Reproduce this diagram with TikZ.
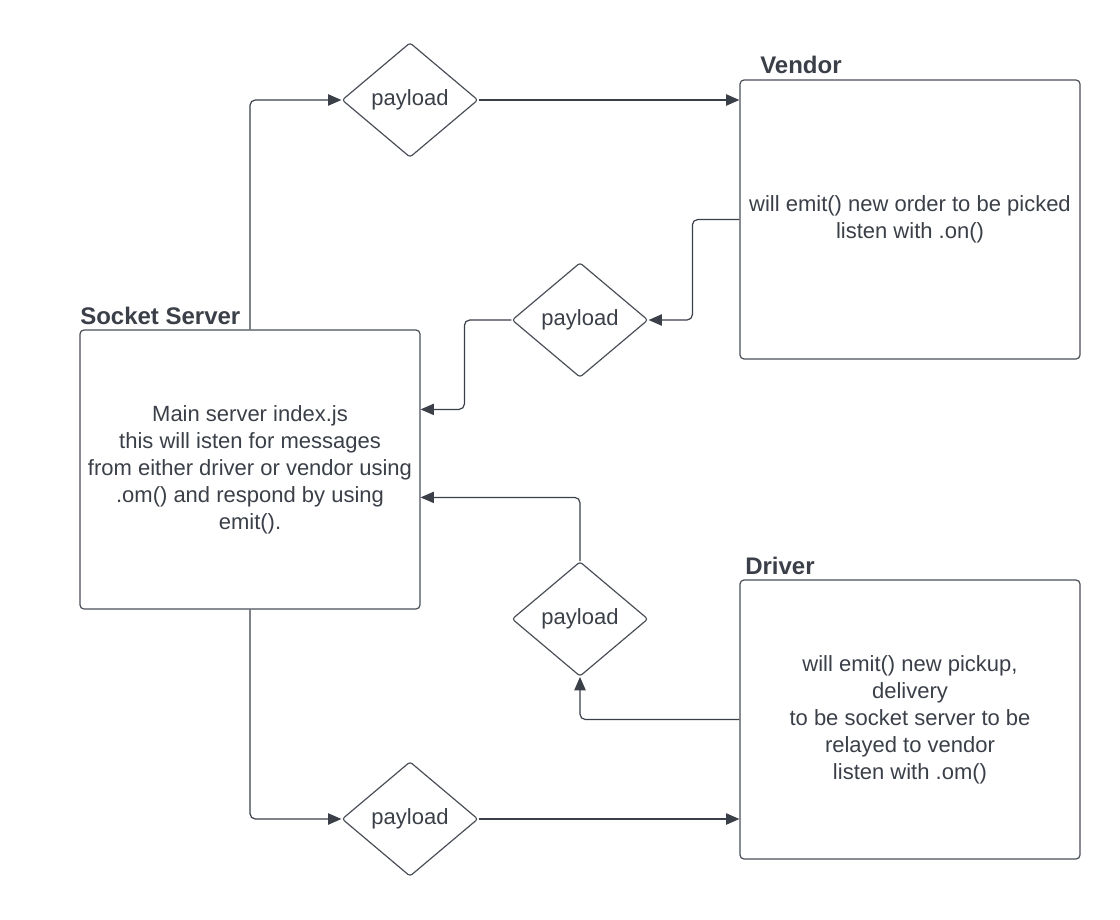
\documentclass[tikz,border=0pt]{standalone}
\usepackage{fontspec}
\setmainfont{Liberation Sans}
\usetikzlibrary{shapes.geometric,arrows.meta,calc}
\definecolor{ink}{HTML}{3A3F48}
\definecolor{edge}{HTML}{4A4F57}
\begin{document}
\begin{tikzpicture}[x=0.75pt,y=-0.75pt,
  box/.style={draw=edge,line width=0.9pt,rounded corners=3pt,minimum width=255pt,minimum height=209.25pt,inner sep=0pt,align=center,text=ink,font=\fontsize{16.5}{20.25}\selectfont},
  dia/.style={diamond,draw=edge,line width=0.9pt,rounded corners=2pt,minimum width=102pt,minimum height=86pt,inner sep=0pt,text=ink,font=\fontsize{16.5}{20.25}\selectfont},
  title/.style={anchor=base west,inner sep=0pt,text=ink,font=\fontsize{18}{22}\selectfont\bfseries},
  conn/.style={draw=ink,line width=0.9pt,rounded corners=4pt,-{Triangle[length=10pt,width=8.5pt]}}]
\useasboundingbox (0,0) rectangle (1120,920);
\node[box] (ss) at (250,469.5) {Main server index.js\\this will isten for messages\\from either driver or vendor using\\.om() and respond by using\\emit().};
\node[box] (vendor) at (910,219.5) {will emit() new order to be picked\\listen with .on()};
\node[box] (driver) at (910,719.5) {will emit() new pickup,\\delivery\\to be socket server to be\\relayed to vendor\\listen with .om()};
\node[title] (tss) at (80,324) {Socket Server};
\node[title] (tv) at (760,74) {Vendor};
\node[title] (td) at (745,574) {Driver};
\node[dia] (d1) at (410,100) {payload};
\node[dia] (d2) at (580,320) {payload};
\node[dia] (d3) at (580,619) {payload};
\node[dia] (d4) at (410,819) {payload};
\draw[conn] (ss.north) |- (d1.west);
\draw[conn] (d1.east) -- (d1.east -| vendor.west);
\draw[conn] (vendor.west) -- ++(-47,0) |- (d2.east);
\draw[conn] (d2.west) -- ++(-47,0) |- ($(ss.north east)+(0,80)$);
\draw[conn] (driver.west) -| (d3.south);
\draw[conn] (d3.north) |- ($(ss.north east)+(0,168)$);
\draw[conn] (ss.south) |- (d4.west);
\draw[conn] (d4.east) -- (d4.east -| driver.west);
\end{tikzpicture}
\end{document}
